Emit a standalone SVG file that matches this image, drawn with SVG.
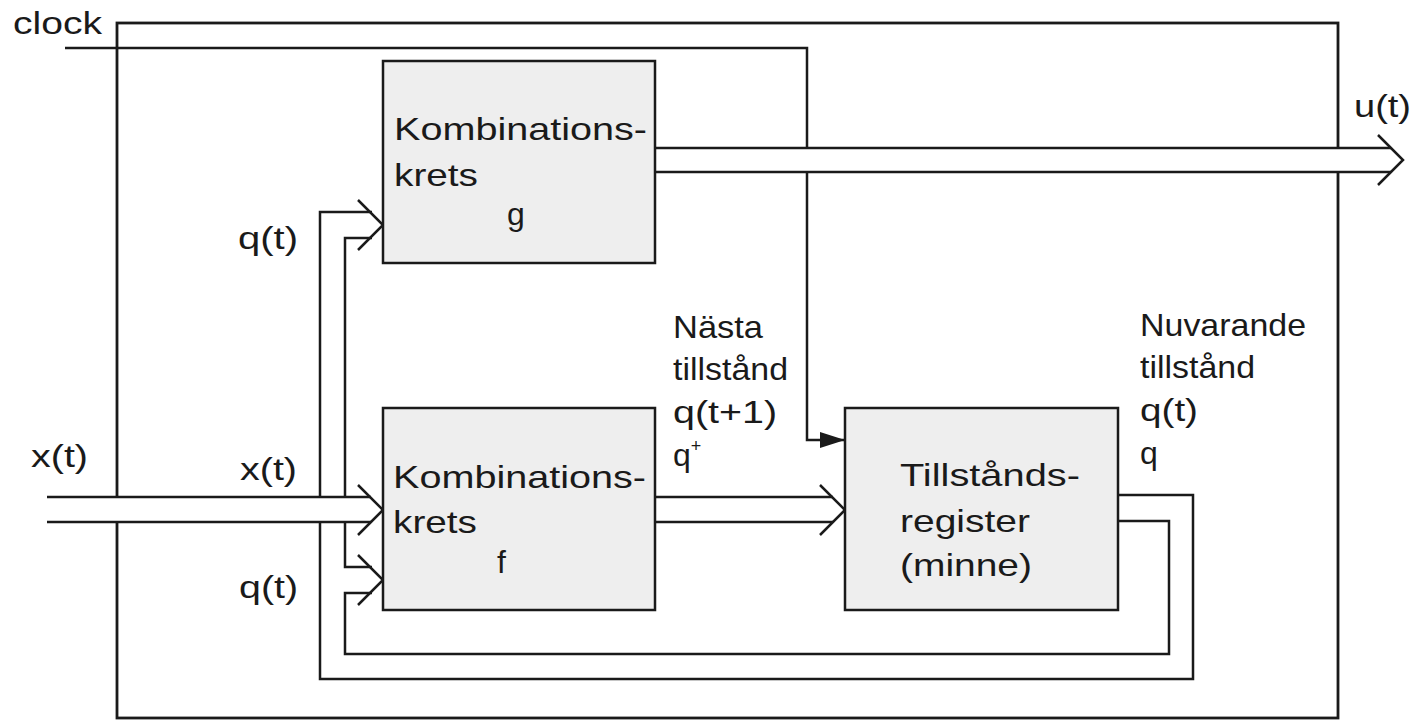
<svg xmlns="http://www.w3.org/2000/svg" width="1418" height="722" viewBox="0 0 1418 722">
<style>
.ln{fill:none;stroke:#1a1a1a;stroke-width:2.5;stroke-linejoin:miter;stroke-linecap:butt}
.box{fill:#eeeeee;stroke:#1a1a1a;stroke-width:2.5}
.band{fill:#ffffff;stroke:none}
.t{font-family:"Liberation Sans",Arial,sans-serif;font-size:32px;fill:#1a1a1a}
</style>
<defs>
<marker id="clk" markerWidth="26" markerHeight="18" refX="25" refY="8" orient="auto" markerUnits="userSpaceOnUse">
<path d="M0,0 L25,8 L0,16 Z" fill="#1a1a1a"/>
</marker>
</defs>
<rect width="1418" height="722" fill="#ffffff"/>
<g id="connectors">
<rect id="frame" x="117" y="23" width="1221" height="695" class="ln" style="stroke-width:2.8"/>
<polyline id="clock-line" class="ln" points="65,48 807,48 807,440 845,440" marker-end="url(#clk)"/>
<g id="feedback-bus">
<polyline class="ln" points="1118,495 1193,495 1193,679 320,679 320,212 372,212"/>
<polyline class="ln" points="1118,521 1169,521 1169,654 345,654 345,593 372,593"/>
<polyline class="ln" points="372,567 345,567 345,238 372,238"/>
<polyline class="ln" points="358,200 383,225 358,250"/>
<polyline class="ln" points="358,555 383,580 358,605"/>
</g>
<g id="x-bus">
<rect class="band" x="47" y="497" width="325" height="25"/>
<line class="ln" x1="47" y1="497" x2="371" y2="497"/>
<line class="ln" x1="47" y1="522" x2="371" y2="522"/>
<polyline class="ln" points="358,485 383,510 358,535"/>
</g>
<g id="f-to-register-bus">
<line class="ln" x1="655" y1="497" x2="833" y2="497"/>
<line class="ln" x1="655" y1="522" x2="833" y2="522"/>
<polyline class="ln" points="820,485 845,510 820,535"/>
</g>
<g id="u-bus">
<rect class="band" x="655" y="148" width="737" height="24"/>
<line class="ln" x1="655" y1="148" x2="1391" y2="148"/>
<line class="ln" x1="655" y1="172" x2="1391" y2="172"/>
<polyline class="ln" points="1378,135 1403,160 1378,185"/>
</g>
</g>
<g id="node-g">
<rect class="box" x="383" y="61" width="272" height="202"/>
<text class="t" x="394" y="140" textLength="253" lengthAdjust="spacingAndGlyphs">Kombinations-</text>
<text class="t" x="394" y="186" textLength="84" lengthAdjust="spacingAndGlyphs">krets</text>
<text class="t" x="507" y="225">g</text>
</g>
<g id="node-f">
<rect class="box" x="383" y="408" width="272" height="202"/>
<text class="t" x="393" y="488" textLength="253" lengthAdjust="spacingAndGlyphs">Kombinations-</text>
<text class="t" x="393" y="533" textLength="84" lengthAdjust="spacingAndGlyphs">krets</text>
<text class="t" x="497" y="573">f</text>
</g>
<g id="node-register">
<rect class="box" x="845" y="408" width="273" height="202"/>
<text class="t" x="900" y="486" textLength="180" lengthAdjust="spacingAndGlyphs">Tillstånds-</text>
<text class="t" x="900" y="532" textLength="130" lengthAdjust="spacingAndGlyphs">register</text>
<text class="t" x="900" y="576" textLength="132" lengthAdjust="spacingAndGlyphs">(minne)</text>
</g>
<g id="labels">
<text class="t" x="13" y="34" textLength="89" lengthAdjust="spacingAndGlyphs">clock</text>
<text class="t" x="1354" y="117" textLength="57" lengthAdjust="spacingAndGlyphs">u(t)</text>
<text class="t" x="238" y="249" textLength="60" lengthAdjust="spacingAndGlyphs">q(t)</text>
<text class="t" x="31" y="467" textLength="57" lengthAdjust="spacingAndGlyphs">x(t)</text>
<text class="t" x="240" y="480" textLength="57" lengthAdjust="spacingAndGlyphs">x(t)</text>
<text class="t" x="239" y="598" textLength="59" lengthAdjust="spacingAndGlyphs">q(t)</text>
<text class="t" x="673" y="338" textLength="90" lengthAdjust="spacingAndGlyphs">Nästa</text>
<text class="t" x="673" y="380" textLength="115" lengthAdjust="spacingAndGlyphs">tillstånd</text>
<text class="t" x="673" y="423" textLength="104" lengthAdjust="spacingAndGlyphs">q(t+1)</text>
<text class="t" x="673" y="466">q<tspan font-size="18" dy="-14">+</tspan></text>
<text class="t" x="1140" y="336" textLength="166" lengthAdjust="spacingAndGlyphs">Nuvarande</text>
<text class="t" x="1140" y="378" textLength="115" lengthAdjust="spacingAndGlyphs">tillstånd</text>
<text class="t" x="1140" y="421" textLength="58" lengthAdjust="spacingAndGlyphs">q(t)</text>
<text class="t" x="1140" y="464">q</text>
</g>
</svg>
